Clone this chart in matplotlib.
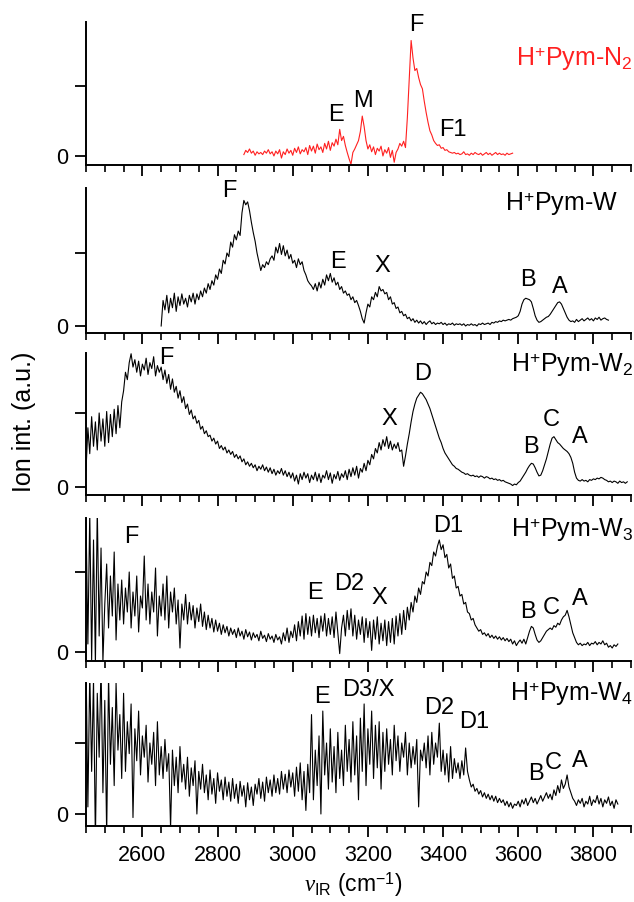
import numpy as np
import matplotlib
matplotlib.use('Agg')
import matplotlib.pyplot as plt
from matplotlib.ticker import MultipleLocator

plt.rcParams['font.family'] = ['Liberation Sans', 'DejaVu Sans']
plt.rcParams['mathtext.fontset'] = 'custom'
plt.rcParams['mathtext.rm'] = 'Liberation Sans'
plt.rcParams['mathtext.it'] = 'Liberation Serif:italic'

# spectra (intensity in units of the middle y tick)
n2_x = np.arange(2870, 3590, 5)
n2_y = [0.02, 0.08, 0.05, 0.10, 0.04, 0.07, 0.01, 0.06, 0.03, 0.05, 0.02, 0.07, 0.04, 0.09, 0.03, 0.06,
        0.00, 0.07, 0.03, 0.09, -0.03, 0.06, 0.02, 0.10, 0.04, 0.08, 0.01, 0.11, 0.05, 0.13, 0.03, 0.09,
        0.06, 0.12, 0.02, 0.15, 0.07, 0.14, 0.04, 0.17, 0.09, 0.13, 0.05, 0.18, 0.10, 0.21, 0.08, 0.19,
        0.14, 0.24, 0.16, 0.38, 0.22, 0.28, 0.15, 0.05, -0.04, -0.12, 0.05, 0.10, 0.16, 0.22, 0.35, 0.57,
        0.42, 0.22, 0.10, 0.16, 0.06, 0.13, 0.02, 0.11, 0.07, 0.14, 0.00, 0.09, 0.04, 0.12, -0.02, 0.08,
        -0.09, 0.05, 0.10, 0.18, 0.14, 0.21, 0.12, 0.55, 1.10, 1.65, 1.40, 1.22, 1.25, 1.12, 1.02, 0.96,
        0.78, 0.62, 0.48, 0.36, 0.30, 0.22, 0.18, 0.15, 0.16, 0.11, 0.12, 0.08, 0.09, 0.06, 0.05, 0.04,
        0.05, 0.03, 0.04, 0.02, 0.03, 0.06, 0.02, 0.03, 0.01, 0.04, 0.02, 0.05, 0.03, 0.02, 0.04, 0.01,
        0.03, 0.05, 0.02, 0.04, 0.01, 0.03, 0.05, 0.02, 0.04, 0.02, 0.03, 0.01, 0.04, 0.02, 0.03, 0.04]

w1_x = np.arange(2650, 3845, 5)
w1_y = [0.00, 0.35, 0.22, 0.42, 0.18, 0.38, 0.25, 0.45, 0.20, 0.40, 0.28, 0.44, 0.30, 0.38, 0.26, 0.42, 0.33, 0.45, 0.30, 0.44,
        0.36, 0.48, 0.40, 0.52, 0.45, 0.58, 0.50, 0.62, 0.56, 0.70, 0.64, 0.78, 0.72, 0.90, 0.85, 1.00, 0.95, 1.15, 1.08, 1.25,
        1.18, 1.30, 1.24, 1.55, 1.72, 1.66, 1.70, 1.58, 1.42, 1.28, 1.16, 1.00, 0.88, 0.76, 0.84, 0.80, 0.88, 0.84, 0.92, 0.96,
        0.90, 1.08, 1.00, 1.13, 0.98, 1.10, 0.96, 1.04, 0.92, 0.98, 0.86, 0.90, 0.80, 0.92, 0.84, 0.88, 0.76, 0.70, 0.62, 0.58,
        0.55, 0.50, 0.58, 0.48, 0.60, 0.52, 0.64, 0.56, 0.70, 0.62, 0.72, 0.60, 0.66, 0.56, 0.60, 0.50, 0.54, 0.45, 0.48, 0.42,
        0.44, 0.36, 0.40, 0.32, 0.35, 0.28, 0.20, 0.10, 0.04, 0.18, 0.30, 0.26, 0.40, 0.36, 0.46, 0.40, 0.54, 0.48, 0.50, 0.44,
        0.46, 0.36, 0.40, 0.30, 0.32, 0.24, 0.26, 0.18, 0.20, 0.14, 0.16, 0.10, 0.12, 0.07, 0.10, 0.05, 0.08, 0.04, 0.07, 0.03,
        0.06, 0.02, 0.05, 0.07, 0.03, 0.05, 0.02, 0.04, 0.03, 0.05, 0.02, 0.04, 0.01, 0.03, 0.02, 0.04, 0.01, 0.03, 0.02, 0.03,
        0.01, 0.03, 0.00, 0.02, 0.01, 0.03, 0.01, 0.02, 0.00, 0.03, 0.02, 0.04, 0.02, 0.03, 0.04, 0.02, 0.05, 0.04, 0.06, 0.05,
        0.07, 0.06, 0.08, 0.07, 0.08, 0.09, 0.08, 0.10, 0.11, 0.12, 0.14, 0.20, 0.30, 0.36, 0.38, 0.37, 0.36, 0.33, 0.24, 0.14,
        0.08, 0.05, 0.06, 0.08, 0.10, 0.12, 0.13, 0.16, 0.20, 0.24, 0.28, 0.32, 0.33, 0.30, 0.24, 0.18, 0.12, 0.08, 0.06, 0.07,
        0.05, 0.09, 0.06, 0.08, 0.10, 0.07, 0.09, 0.11, 0.08, 0.10, 0.07, 0.11, 0.09, 0.12, 0.08, 0.10, 0.11, 0.09, 0.08]

w2_x = np.arange(2450, 3895, 5)
w2_y = [0.22, 0.80, 0.45, 0.95, 0.55, 0.88, 0.50, 1.00, 0.62, 0.92, 0.55, 1.02, 0.60, 0.98, 0.68, 1.05, 0.72, 1.10, 0.80, 1.15,
        1.30, 1.55, 1.45, 1.68, 1.80, 1.62, 1.72, 1.55, 1.70, 1.50, 1.66, 1.58, 1.74, 1.52, 1.68, 1.60, 1.76, 1.50, 1.64, 1.55,
        1.62, 1.45, 1.58, 1.40, 1.52, 1.32, 1.46, 1.28, 1.36, 1.20, 1.30, 1.14, 1.22, 1.06, 1.12, 0.98, 1.04, 0.92, 0.96, 0.86,
        0.90, 0.78, 0.82, 0.72, 0.76, 0.68, 0.70, 0.62, 0.66, 0.58, 0.62, 0.52, 0.56, 0.50, 0.54, 0.46, 0.50, 0.44, 0.48, 0.40,
        0.44, 0.38, 0.42, 0.34, 0.38, 0.30, 0.34, 0.28, 0.32, 0.26, 0.30, 0.22, 0.28, 0.24, 0.30, 0.22, 0.27, 0.20, 0.26, 0.18,
        0.24, 0.16, 0.22, 0.18, 0.25, 0.16, 0.22, 0.14, 0.20, 0.12, 0.19, 0.08, 0.16, 0.04, 0.18, 0.10, 0.20, 0.12, 0.18, 0.06,
        0.16, 0.10, 0.20, 0.08, 0.18, 0.06, 0.16, 0.12, 0.22, 0.10, 0.19, 0.05, 0.17, 0.11, 0.21, 0.09, 0.18, 0.13, 0.22, 0.10,
        0.24, 0.14, 0.26, 0.16, 0.28, 0.12, 0.25, 0.20, 0.32, 0.22, 0.36, 0.30, 0.44, 0.38, 0.52, 0.46, 0.60, 0.50, 0.64, 0.55,
        0.68, 0.52, 0.62, 0.50, 0.58, 0.52, 0.60, 0.48, 0.50, 0.28, 0.42, 0.58, 0.72, 0.88, 1.02, 1.12, 1.20, 1.24, 1.28, 1.26,
        1.22, 1.18, 1.12, 1.06, 0.98, 0.90, 0.82, 0.74, 0.66, 0.60, 0.52, 0.46, 0.42, 0.38, 0.34, 0.30, 0.28, 0.25, 0.24, 0.22,
        0.20, 0.19, 0.17, 0.18, 0.16, 0.15, 0.16, 0.14, 0.15, 0.13, 0.15, 0.14, 0.12, 0.14, 0.13, 0.11, 0.12, 0.10, 0.11, 0.09,
        0.10, 0.08, 0.09, 0.07, 0.06, 0.05, 0.04, 0.02, 0.04, 0.03, 0.06, 0.08, 0.12, 0.16, 0.20, 0.25, 0.29, 0.32, 0.31, 0.26,
        0.20, 0.15, 0.16, 0.22, 0.30, 0.38, 0.48, 0.58, 0.66, 0.68, 0.64, 0.60, 0.58, 0.55, 0.52, 0.50, 0.48, 0.45, 0.40, 0.32,
        0.20, 0.12, 0.09, 0.08, 0.10, 0.08, 0.09, 0.07, 0.10, 0.09, 0.11, 0.10, 0.12, 0.11, 0.13, 0.12, 0.10, 0.09, 0.07, 0.08,
        0.06, 0.08, 0.07, 0.05, 0.08, 0.06, 0.07, 0.05, 0.07]

w3_x = np.arange(2450, 3870, 5)
w3_y = [1.70, 0.10, 1.75, -0.10, 1.40, -0.15, 1.80, 0.20, 1.30, -0.12, 0.60, 1.10, 0.30, 0.95, 0.45, 1.25, 0.15, 0.85, 0.40, 0.90,
        0.35, 0.80, 0.50, 1.00, 0.30, 0.75, 0.45, 0.95, 0.25, 0.70, 0.55, 1.20, 0.40, 0.85, 0.35, 0.75, 0.50, 1.05, 0.20, 0.70,
        0.45, 0.85, 0.40, 0.95, 0.30, 0.75, 0.50, 0.80, 0.35, 0.65, 0.05, 0.60, 0.40, 0.72, 0.35, 0.62, 0.40, 0.58, 0.30, 0.55,
        0.38, 0.60, 0.32, 0.50, 0.28, 0.46, 0.30, 0.42, 0.25, 0.40, 0.26, 0.36, 0.22, 0.34, 0.24, 0.32, 0.20, 0.30, 0.22, 0.28,
        0.18, 0.30, 0.20, 0.26, 0.16, 0.28, 0.19, 0.25, 0.15, 0.24, 0.18, 0.22, 0.14, 0.26, 0.17, 0.21, 0.13, 0.23, 0.16, 0.20,
        0.12, 0.22, 0.15, 0.19, 0.10, 0.24, 0.14, 0.30, 0.12, 0.26, 0.18, 0.34, 0.14, 0.38, 0.20, 0.45, 0.16, 0.48, 0.22, 0.44,
        0.20, 0.46, 0.24, 0.42, 0.18, 0.45, 0.26, 0.48, 0.20, 0.42, 0.22, 0.44, 0.18, 0.50, 0.24, -0.02, 0.30, 0.46, 0.20, 0.52,
        0.28, 0.54, 0.20, 0.46, 0.16, 0.40, 0.22, 0.44, 0.12, 0.42, 0.18, 0.38, 0.02, 0.40, 0.16, 0.44, 0.10, 0.36, 0.14, 0.40,
        0.08, 0.38, 0.12, 0.42, 0.10, 0.45, 0.20, 0.48, 0.22, 0.52, 0.28, 0.56, 0.40, 0.62, 0.50, 0.70, 0.62, 0.80, 0.72, 0.88,
        0.85, 1.00, 0.95, 1.12, 1.08, 1.25, 1.20, 1.32, 1.40, 1.28, 1.34, 1.18, 1.22, 1.05, 1.10, 0.92, 0.95, 0.80, 0.82, 0.70,
        0.72, 0.60, 0.62, 0.50, 0.48, 0.40, 0.42, 0.34, 0.30, 0.26, 0.28, 0.22, 0.24, 0.20, 0.23, 0.18, 0.21, 0.17, 0.20, 0.16,
        0.19, 0.15, 0.18, 0.14, 0.17, 0.13, 0.16, 0.10, 0.14, 0.08, 0.12, 0.15, 0.11, 0.16, 0.10, 0.18, 0.26, 0.32, 0.30, 0.22,
        0.15, 0.12, 0.14, 0.18, 0.22, 0.26, 0.28, 0.30, 0.28, 0.33, 0.31, 0.36, 0.34, 0.40, 0.44, 0.46, 0.52, 0.44, 0.34, 0.24,
        0.18, 0.12, 0.09, 0.11, 0.08, 0.10, 0.09, 0.12, 0.08, 0.11, 0.10, 0.13, 0.09, 0.12, 0.10, 0.14, 0.09, 0.11, 0.06, 0.08,
        0.05, 0.09, 0.07, 0.10]

w4_x = np.arange(2450, 3870, 5)
w4_y = [2.20, 0.10, 2.00, 0.60, 1.90, -0.40, 1.70, 0.80, 2.10, 0.30, 1.60, -0.30, 1.95, 0.70, 1.50, 0.40, 1.85, 0.90, 1.40, 0.50,
        1.70, 0.60, 1.30, 0.85, 1.55, -0.05, 1.20, 0.75, 1.45, 0.55, 1.10, 0.80, 1.25, 0.45, 1.00, 0.70, 1.15, 0.40, 1.30, 0.55,
        0.95, 0.50, 1.05, 0.60, 0.85, -0.20, 0.90, 0.40, 0.80, 0.30, 0.95, 0.45, 0.70, 0.35, 0.80, 0.25, 0.65, 0.40, 0.75, 0.00,
        0.60, 0.35, 0.70, 0.30, 0.55, 0.20, 0.62, 0.28, 0.50, 0.15, 0.58, 0.32, 0.48, 0.20, 0.52, 0.25, 0.45, 0.18, 0.50, 0.22,
        0.42, 0.15, 0.46, 0.25, 0.40, 0.10, 0.44, 0.20, 0.38, 0.12, 0.42, 0.28, 0.50, 0.22, 0.45, 0.18, 0.52, 0.30, 0.48, 0.25,
        0.55, 0.30, 0.50, 0.28, 0.60, 0.35, 0.56, 0.30, 0.62, 0.38, 0.58, 0.25, 0.66, 0.32, 0.72, 0.20, 0.60, 0.05, 0.70, 0.30,
        1.40, 0.20, 0.90, 0.40, 1.10, 0.00, 1.45, 0.55, 1.00, 0.35, 1.20, 0.45, 0.95, 0.30, 1.15, 0.50, 0.90, 0.40, 1.25, 0.60,
        1.05, 0.45, 1.30, 0.55, 1.10, 0.20, 1.35, 0.60, 1.55, 0.40, 1.20, 0.70, 1.45, 0.50, 1.25, 0.65, 1.30, 0.35, 1.15, 0.60,
        1.20, 0.70, 1.05, 0.55, 1.25, 0.75, 1.10, 0.60, 1.00, 0.80, 1.15, 0.55, 1.00, 0.65, 0.95, 0.70, 1.05, 0.10, 0.90, 0.75,
        1.00, 0.65, 1.10, 0.55, 1.15, 0.70, 1.00, 0.80, 1.28, 0.60, 0.90, 0.55, 0.85, 0.45, 0.95, 0.50, 0.78, 0.58, 0.72, 0.50,
        0.75, 0.55, 0.93, 0.60, 0.48, 0.38, 0.42, 0.32, 0.36, 0.28, 0.33, 0.24, 0.30, 0.22, 0.28, 0.20, 0.26, 0.18, 0.25, 0.16,
        0.22, 0.16, 0.20, 0.12, 0.18, 0.10, 0.16, 0.08, 0.14, 0.12, 0.18, 0.10, 0.20, 0.14, 0.22, 0.12, 0.18, 0.24, 0.16, 0.22,
        0.14, 0.20, 0.26, 0.18, 0.24, 0.30, 0.22, 0.28, 0.20, 0.34, 0.26, 0.40, 0.30, 0.48, 0.36, 0.42, 0.55, 0.38, 0.30, 0.22,
        0.18, 0.12, 0.20, 0.15, 0.22, 0.10, 0.18, 0.14, 0.25, 0.12, 0.20, 0.16, 0.26, 0.14, 0.22, 0.10, 0.20, 0.15, 0.24, 0.12,
        0.18, 0.08, 0.20, 0.14]

# panel titles and peak labels (position in cm-1, height in panel units)
titles = [r'H$^{+}$Pym-N$_{2}$', r'H$^{+}$Pym-W', r'H$^{+}$Pym-W$_{2}$',
          r'H$^{+}$Pym-W$_{3}$', r'H$^{+}$Pym-W$_{4}$']
title_x = [3903, 3866, 3905, 3905, 3905]
title_y = [1.28, 1.57, 1.56, 1.44, 1.59]
peaks = [
    [('E', 3116, 0.50), ('M', 3187, 0.70), ('F', 3328, 1.78), ('F1', 3426, 0.28)],
    [('F', 2830, 1.76), ('E', 3120, 0.79), ('X', 3239, 0.74), ('B', 3627, 0.55), ('A', 3711, 0.45)],
    [('F', 2665, 1.66), ('X', 3258, 0.84), ('D', 3345, 1.44), ('B', 3633, 0.46), ('C', 3689, 0.82), ('A', 3765, 0.60)],
    [('F', 2570, 1.36), ('E', 3059, 0.66), ('D2', 3149, 0.78), ('X', 3230, 0.60), ('D1', 3413, 1.50),
     ('B', 3625, 0.43), ('C', 3687, 0.47), ('A', 3763, 0.59)],
    [('E', 3078, 1.57), ('D3/X', 3201, 1.66), ('D2', 3391, 1.41), ('D1', 3483, 1.21),
     ('B', 3646, 0.48), ('C', 3692, 0.64), ('A', 3763, 0.66)],
]

spectra = [(n2_x, n2_y), (w1_x, w1_y), (w2_x, w2_y), (w3_x, w3_y), (w4_x, w4_y)]
colors = ['#ff2020', 'black', 'black', 'black', 'black']
ylims = [(-0.129, 1.914), (-0.096, 1.89), (-0.108, 1.81), (-0.1125, 1.675), (-0.169, 1.845)]
# axes boxes in figure pixels: (top, bottom)
boxes = [(22, 165), (188, 333), (353, 495), (518, 661), (683, 826)]

W, H = 634, 902
fig = plt.figure(figsize=(W / 100, H / 100), dpi=100)

for i in range(5):
    top, bot = boxes[i]
    ax = fig.add_axes([86 / W, 1 - bot / H, 545 / W, (bot - top) / H])
    x, y = spectra[i]
    ax.plot(x, y, color=colors[i], lw=0.8)
    ax.set_xlim(2450, 3900)
    ax.set_ylim(*ylims[i])

    # only left and bottom frame, ticks pointing out
    ax.spines['top'].set_visible(False)
    ax.spines['right'].set_visible(False)
    ax.spines['left'].set_linewidth(1.4)
    ax.spines['bottom'].set_linewidth(1.4)
    ax.set_yticks([0, 1])
    ax.set_yticklabels(['0', ''])
    ax.xaxis.set_major_locator(MultipleLocator(200))
    ax.xaxis.set_minor_locator(MultipleLocator(50))
    ax.tick_params(direction='out', width=1.3, labelsize=15.5)
    ax.tick_params(axis='y', length=8, pad=5)
    ax.tick_params(axis='x', which='major', length=8, pad=6)
    ax.tick_params(axis='x', which='minor', length=5, width=1.2)
    if i < 4:
        ax.set_xticklabels([])

    ax.text(title_x[i], title_y[i], titles[i], color=colors[i], fontsize=18,
            ha='right', va='baseline')
    for lab, px, py in peaks[i]:
        ax.text(px, py, lab, fontsize=17, ha='center', va='baseline')

fig.text(24 / W, 1 - 422 / H, 'Ion int. (a.u.)', rotation=90, fontsize=18,
         ha='center', va='center')
fig.text(353 / W, 1 - 885 / H, r'$\nu_{\rm IR}$ (cm$^{-1}$)', fontsize=16.5,
         ha='center', va='center')

plt.savefig('out.png', dpi=100)
